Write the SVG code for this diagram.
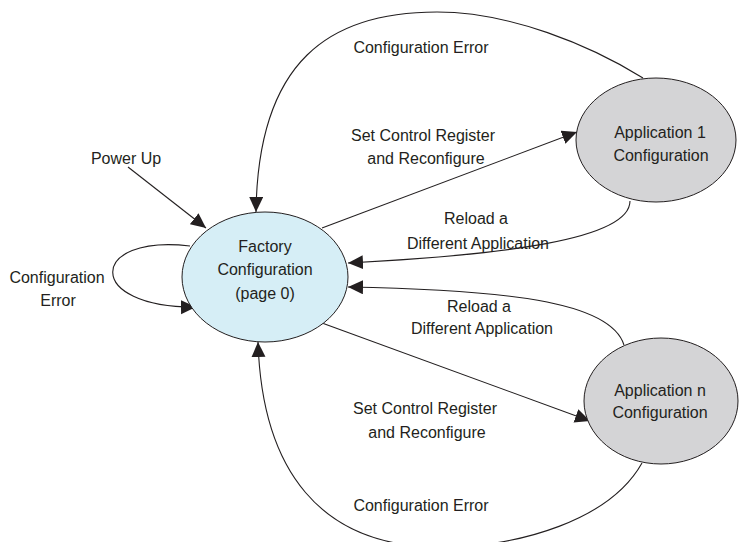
<svg xmlns="http://www.w3.org/2000/svg" width="739" height="542" viewBox="0 0 739 542">
  <style>
    .lbl { font-family: "Liberation Sans", Arial, sans-serif; font-size: 16px; fill: #231f20; text-anchor: middle; }
    .edge { fill: none; stroke: #231f20; stroke-width: 1.1; marker-end: url(#arrow); }
    .state { stroke: #231f20; stroke-width: 1; }
    .factory { fill: #d6eef6; }
    .app { fill: #d4d4d6; }
  </style>
  <defs>
    <marker id="arrow" markerUnits="userSpaceOnUse" markerWidth="16" markerHeight="15" refX="15" refY="7" orient="auto">
      <path d="M0,0 L15,7 L0,14 z" fill="#231f20"/>
    </marker>
  </defs>
  <rect width="739" height="542" fill="#ffffff"/>

  <!-- connectors -->
  <g id="connectors">
    <!-- power up -->
    <path class="edge" d="M128,167 L206,228"/>
    <!-- self loop on factory -->
    <path class="edge" d="M190,246 C88,234 84,308 196,307"/>
    <!-- app 1 configuration error back to factory -->
    <path class="edge" d="M643,78 C590,45 510,12 437,12 C330,12 258,60 256,212"/>
    <!-- factory to app 1 -->
    <path class="edge" d="M322,228 L577,132"/>
    <!-- reload from app 1 -->
    <path class="edge" d="M630,201 C630,240 500,255 348,263"/>
    <!-- reload from app n -->
    <path class="edge" d="M624,345 C610,300 500,290 348,287"/>
    <!-- factory to app n -->
    <path class="edge" d="M322,323 L590,421"/>
    <!-- app n configuration error back to factory -->
    <path class="edge" d="M642,463 C610,520 520,547 440,547 C320,547 262,470 258,342"/>
  </g>

  <!-- edge labels -->
  <g id="edge-labels">
    <text class="lbl" x="126" y="164">Power Up</text>
    <text class="lbl" x="57" y="283">Configuration</text>
    <text class="lbl" x="58" y="306">Error</text>
    <text class="lbl" x="421" y="53">Configuration Error</text>
    <text class="lbl" x="423" y="141">Set Control Register</text>
    <text class="lbl" x="426" y="164">and Reconfigure</text>
    <text class="lbl" x="476" y="224">Reload a</text>
    <text class="lbl" x="478" y="249">Different Application</text>
    <text class="lbl" x="479" y="312">Reload a</text>
    <text class="lbl" x="482" y="334">Different Application</text>
    <text class="lbl" x="425" y="414">Set Control Register</text>
    <text class="lbl" x="427" y="438">and Reconfigure</text>
    <text class="lbl" x="421" y="511">Configuration Error</text>
  </g>

  <g id="factory">
    <ellipse class="state factory" cx="265" cy="277" rx="83" ry="65"/>
    <text class="lbl" x="265" y="252">Factory</text>
    <text class="lbl" x="265" y="275">Configuration</text>
    <text class="lbl" x="265" y="299">(page 0)</text>
  </g>

  <g id="app1">
    <ellipse class="state app" cx="656" cy="140" rx="80" ry="62"/>
    <text class="lbl" x="660" y="138">Application 1</text>
    <text class="lbl" x="661" y="161">Configuration</text>
  </g>

  <g id="appn">
    <ellipse class="state app" cx="661" cy="401" rx="77" ry="63"/>
    <text class="lbl" x="660" y="396">Application n</text>
    <text class="lbl" x="660" y="418">Configuration</text>
  </g>
</svg>
